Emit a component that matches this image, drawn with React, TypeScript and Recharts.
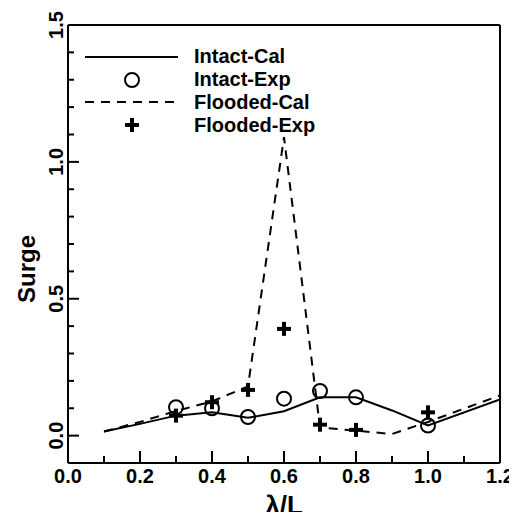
import React from 'react';
import { ComposedChart, Line, Scatter, XAxis, YAxis } from 'recharts';

const intactCalX = [0.1, 0.2, 0.3, 0.4, 0.5, 0.6, 0.7, 0.8, 0.9, 1.0, 1.2];
const intactCalY = [0.015, 0.043, 0.073, 0.085, 0.065, 0.089, 0.14, 0.14, 0.092, 0.037, 0.132];
const intactExpX = [0.3, 0.4, 0.5, 0.6, 0.7, 0.8, 1.0];
const intactExpY = [0.104, 0.1, 0.068, 0.135, 0.163, 0.14, 0.037];
const floodedCalX = [0.1, 0.2, 0.3, 0.4, 0.5, 0.6, 0.7, 0.8, 0.9, 1.0, 1.2];
const floodedCalY = [0.015, 0.05, 0.09, 0.125, 0.18, 1.09, 0.03, 0.018, 0.006, 0.05, 0.147];
const floodedExpX = [0.3, 0.4, 0.5, 0.6, 0.7, 0.8, 1.0];
const floodedExpY = [0.073, 0.122, 0.167, 0.39, 0.04, 0.021, 0.085];

const xTicks = [0, 0.1, 0.2, 0.3, 0.4, 0.5, 0.6, 0.7, 0.8, 0.9, 1.0, 1.1, 1.2];
const yTicks = [0, 0.1, 0.2, 0.3, 0.4, 0.5, 0.6, 0.7, 0.8, 0.9, 1.0, 1.1, 1.2, 1.3, 1.4, 1.5];
const seriesNames = ['Intact-Cal', 'Intact-Exp', 'Flooded-Cal', 'Flooded-Exp'];

const zip = (xs: number[], ys: number[]) => xs.map((x, i) => ({ x, y: ys[i] }));
const intactCal = zip(intactCalX, intactCalY);
const intactExp = zip(intactExpX, intactExpY);
const floodedCal = zip(floodedCalX, floodedCalY);
const floodedExp = zip(floodedExpX, floodedExpY);

const FONT = '"Liberation Sans", Arial, sans-serif';
const AXIS_LINE = { stroke: '#000', strokeWidth: 2 };

const XTick = (props: any) => {
  const { x, y, payload } = props;
  const v = payload.value;
  const major = Math.round(v * 10) % 2 === 0;
  return (
    <g>
      <line x1={x} x2={x} y1={y} y2={y - (major ? 12 : 7)} stroke="#000" strokeWidth={2} />
      {major && (
        <text x={x} y={y + 20} textAnchor="middle" fontFamily={FONT} fontWeight="bold" fontSize={20} fill="#000">
          {v.toFixed(1)}
        </text>
      )}
    </g>
  );
};

const YTick = (props: any) => {
  const { x, y, payload } = props;
  const v = payload.value;
  const major = Math.round(v * 10) % 5 === 0;
  return (
    <g>
      <line x1={x} x2={x + (major ? 11 : 6)} y1={y} y2={y} stroke="#000" strokeWidth={2} />
      {major && (
        <text
          x={x - 5}
          y={y}
          transform={`rotate(-90 ${x - 5} ${y})`}
          textAnchor="middle"
          fontFamily={FONT}
          fontWeight="bold"
          fontSize={20}
          fill="#000"
        >
          {v.toFixed(1)}
        </text>
      )}
    </g>
  );
};

const CircleShape = (props: any) => (
  <circle cx={props.cx} cy={props.cy} r={7} fill="none" stroke="#000" strokeWidth={2} />
);
const PlusShape = (props: any) => {
  const { cx, cy } = props;
  return (
    <g stroke="#000" strokeWidth={4}>
      <line x1={cx - 7} x2={cx + 7} y1={cy} y2={cy} />
      <line x1={cx} x2={cx} y1={cy - 7} y2={cy + 7} />
    </g>
  );
};

export default function App() {
  return (
    <div style={{ width: 509, height: 512, marginBottom: -8 }}>
      <ComposedChart width={509} height={512} margin={{ top: 16, left: 0, right: 16, bottom: 0 }}>
        <XAxis
          xAxisId="b"
          type="number"
          dataKey="x"
          domain={[0, 1.2]}
          ticks={xTicks}
          interval={0}
          height={57}
          tickSize={0}
          tickMargin={0}
          axisLine={AXIS_LINE}
          tickLine={false}
          tick={<XTick />}
          allowDataOverflow
        />
        <XAxis
          xAxisId="t"
          orientation="top"
          type="number"
          domain={[0, 1.2]}
          height={1}
          axisLine={AXIS_LINE}
          tick={false}
          tickLine={false}
        />
        <YAxis
          yAxisId="l"
          type="number"
          dataKey="y"
          domain={[-0.1, 1.5]}
          ticks={yTicks}
          interval={0}
          width={60}
          tickSize={0}
          tickMargin={0}
          axisLine={AXIS_LINE}
          tickLine={false}
          tick={<YTick />}
          allowDataOverflow
        />
        <YAxis
          yAxisId="r"
          orientation="right"
          type="number"
          domain={[-0.1, 1.5]}
          width={1}
          axisLine={AXIS_LINE}
          tick={false}
          tickLine={false}
        />
        <Line xAxisId="b" yAxisId="l" data={intactCal} dataKey="y" type="linear" stroke="#000" strokeWidth={2} dot={false} isAnimationActive={false} />
        <Line xAxisId="b" yAxisId="l" data={floodedCal} dataKey="y" type="linear" stroke="#000" strokeWidth={2} strokeDasharray="9 7" dot={false} isAnimationActive={false} />
        <Scatter xAxisId="b" yAxisId="l" data={intactExp} dataKey="y" shape={<CircleShape />} isAnimationActive={false} />
        <Scatter xAxisId="b" yAxisId="l" data={floodedExp} dataKey="y" shape={<PlusShape />} isAnimationActive={false} />
        <g>
          <line x1={77} x2={170} y1={49} y2={49} stroke="#000" strokeWidth={2} />
          <circle cx={124} cy={72} r={7} fill="none" stroke="#000" strokeWidth={2} />
          <line x1={77} x2={170} y1={94} y2={94} stroke="#000" strokeWidth={2} strokeDasharray="9 7" />
          <g stroke="#000" strokeWidth={4}>
            <line x1={117} x2={131} y1={117} y2={117} />
            <line x1={124} x2={124} y1={110} y2={124} />
          </g>
          {seriesNames.map((n, i) => (
            <text key={n} x={186} y={55 + i * 23} fontFamily={FONT} fontWeight="bold" fontSize={20} fill="#000">
              {n}
            </text>
          ))}
        </g>
        <text x={27} y={261} transform="rotate(-90 27 261)" textAnchor="middle" fontFamily={FONT} fontWeight="bold" fontSize={24} fill="#000">
          Surge
        </text>
        <text x={276} y={506} textAnchor="middle" fontFamily={FONT} fontWeight="bold" fontSize={26} fill="#000">
          λ/L
        </text>
      </ComposedChart>
    </div>
  );
}
